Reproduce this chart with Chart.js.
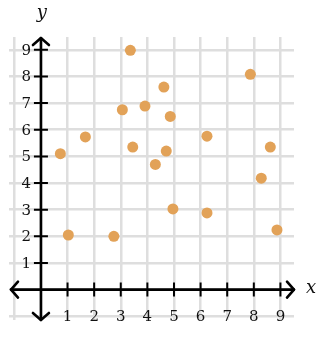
<!DOCTYPE html>
<html>
<head>
<meta charset="utf-8">
<script src="https://cdn.jsdelivr.net/npm/chart.js@4"></script>
<style>
  html, body { margin: 0; padding: 0; background: #fff; }
  #wrap { width: 326px; height: 338px; }
</style>
</head>
<body>
<div id="wrap"><canvas id="grafico" width="326" height="338"></canvas></div>
<script>
// valores
const pontosX = [0.73, 1.03, 1.67, 2.74, 3.06, 3.36, 3.45, 3.91, 4.30, 4.62, 4.71, 4.86, 4.96, 6.24, 6.24, 7.87, 8.62, 8.28, 8.87];
const pontosY = [5.10, 2.05, 5.73, 2.00, 6.75, 8.98, 5.35, 6.89, 4.70, 7.60, 5.20, 6.50, 3.03, 5.76, 2.88, 8.08, 5.35, 4.18, 2.24];
const linhasGrade = [-1, 0, 1, 2, 3, 4, 5, 6, 7, 8, 9];
const rotulosX = ['1', '2', '3', '4', '5', '6', '7', '8', '9'];
const rotulosY = ['1', '2', '3', '4', '5', '6', '7', '8', '9'];
const tituloX = 'x';
const tituloY = 'y';

const fonteSerif = '"DejaVu Serif", "Liberation Serif", serif';

// desenha os eixos com setas, marcas e rotulos
const eixosPlugin = {
  id: 'eixos',
  afterDraw(chart) {
    const ctx = chart.ctx;
    const sx = chart.scales.x, sy = chart.scales.y;
    const area = chart.chartArea;
    const x0 = sx.getPixelForValue(0);
    const y0 = sy.getPixelForValue(0);
    ctx.save();
    ctx.strokeStyle = '#000';
    ctx.lineWidth = 2.6;
    ctx.lineCap = 'round';
    ctx.lineJoin = 'round';

    // linhas dos eixos
    ctx.beginPath();
    ctx.moveTo(area.left + 2, y0); ctx.lineTo(area.right, y0);
    ctx.moveTo(x0, area.top + 1); ctx.lineTo(x0, area.bottom);
    ctx.stroke();

    // setas
    const a = 8, b = 7;
    ctx.beginPath();
    ctx.moveTo(area.right - b, y0 - a); ctx.lineTo(area.right, y0); ctx.lineTo(area.right - b, y0 + a);
    ctx.moveTo(area.left + 2 + b, y0 - a); ctx.lineTo(area.left + 2, y0); ctx.lineTo(area.left + 2 + b, y0 + a);
    ctx.moveTo(x0 - a, area.top + 1 + b); ctx.lineTo(x0, area.top + 1); ctx.lineTo(x0 + a, area.top + 1 + b);
    ctx.moveTo(x0 - a, area.bottom - b); ctx.lineTo(x0, area.bottom); ctx.lineTo(x0 + a, area.bottom - b);
    ctx.stroke();

    // marcas
    ctx.lineWidth = 2;
    ctx.lineCap = 'butt';
    ctx.beginPath();
    rotulosX.forEach(t => {
      const px = sx.getPixelForValue(Number(t));
      ctx.moveTo(px, y0 - 7); ctx.lineTo(px, y0 + 7);
    });
    rotulosY.forEach(t => {
      const py = sy.getPixelForValue(Number(t));
      ctx.moveTo(x0 - 7, py); ctx.lineTo(x0 + 7, py);
    });
    ctx.stroke();

    // rotulos
    ctx.fillStyle = '#111';
    ctx.font = '15px ' + fonteSerif;
    ctx.textAlign = 'center';
    ctx.textBaseline = 'middle';
    rotulosX.forEach(t => {
      ctx.fillText(t, sx.getPixelForValue(Number(t)), y0 + 27);
    });
    ctx.textAlign = 'right';
    rotulosY.forEach(t => {
      ctx.fillText(t, x0 - 10, sy.getPixelForValue(Number(t)) + 1);
    });

    // titulos
    ctx.font = 'italic 18px ' + fonteSerif;
    ctx.textAlign = 'center';
    ctx.fillText(tituloY, x0 + 1, 13);
    ctx.fillText(tituloX, area.right + 17, y0 - 1);
    ctx.restore();
  }
};

const ctx = document.getElementById('grafico').getContext('2d');
const grafico = new Chart(ctx, {
  type: 'scatter',
  data: {
    datasets: [{
      data: pontosX.map((x, i) => ({ x: x, y: pontosY[i] })),
      backgroundColor: '#e2a258',
      borderWidth: 0,
      pointRadius: 5.5,
      pointHoverRadius: 5.5
    }]
  },
  options: {
    responsive: false,
    animation: false,
    layout: { padding: { left: 9, right: 32, top: 37, bottom: 18 } },
    plugins: { legend: { display: false }, tooltip: { enabled: false } },
    scales: {
      x: {
        type: 'linear', min: -1.2, max: 9.51,
        afterBuildTicks: s => { s.ticks = linhasGrade.map(v => ({ value: v })); },
        ticks: { display: false },
        border: { display: false },
        grid: { color: '#dedede', lineWidth: 2.5, drawTicks: false }
      },
      y: {
        type: 'linear', min: -1.14, max: 9.48,
        afterBuildTicks: s => { s.ticks = linhasGrade.map(v => ({ value: v })); },
        ticks: { display: false },
        border: { display: false },
        grid: { color: '#dedede', lineWidth: 2.5, drawTicks: false }
      }
    }
  },
  plugins: [eixosPlugin]
});
</script>
</body>
</html>
